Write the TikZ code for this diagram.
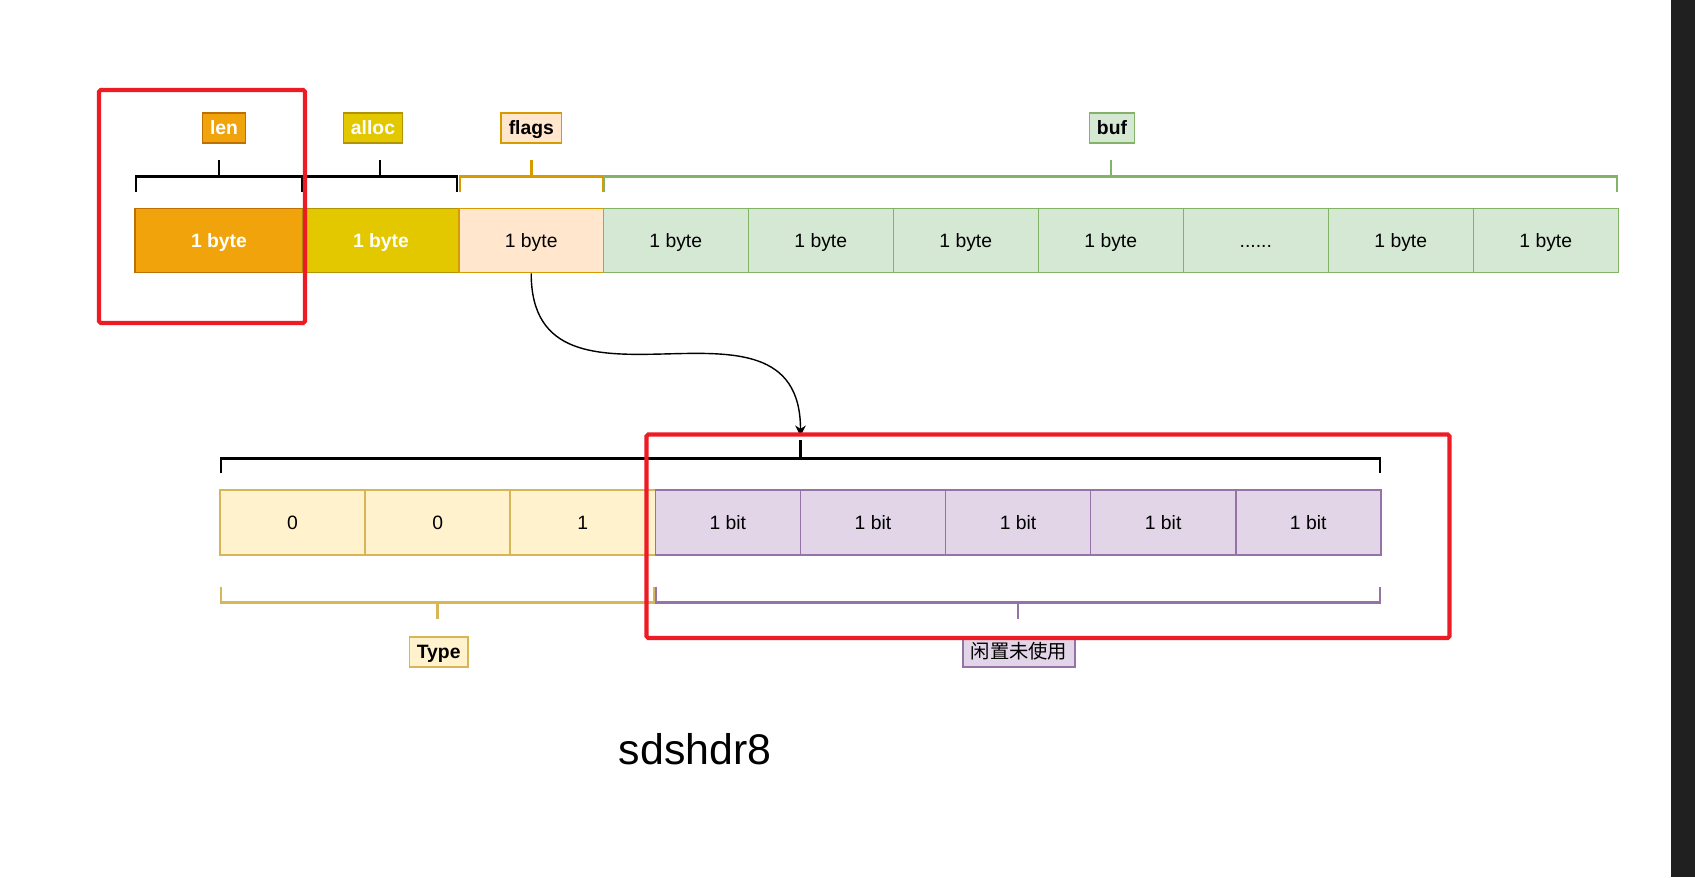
\documentclass[tikz,border=0pt]{standalone}
\usepackage{fontspec}
\setmainfont{Liberation Sans}
\newfontfamily\cjk{Noto Sans CJK SC}
\usepackage{tikz}
\usetikzlibrary{arrows.meta}

\definecolor{lenfill}{HTML}{F0A30A}
\definecolor{lenline}{HTML}{BD7000}
\definecolor{allocfill}{HTML}{E3C800}
\definecolor{allocline}{HTML}{B09500}
\definecolor{flagsfill}{HTML}{FFE6CC}
\definecolor{flagsline}{HTML}{D79B00}
\definecolor{buffill}{HTML}{D5E8D4}
\definecolor{bufline}{HTML}{82B366}
\definecolor{typefill}{HTML}{FFF2CC}
\definecolor{typeline}{HTML}{D6B656}
\definecolor{bitfill}{HTML}{E1D5E7}
\definecolor{bitline}{HTML}{9673A6}
\definecolor{markred}{HTML}{ED1C24}
\definecolor{sidebar}{HTML}{202020}

\newcommand\bufdots{......}

\tikzset{
  cell/.style={draw, line width=0.9pt, minimum height=1.288cm, inner sep=0pt,
    text height=7.9pt, text depth=0pt, font=\fontsize{11}{13}\selectfont},
  tag/.style={draw, line width=0.9pt, minimum height=0.59cm, inner xsep=4.3pt,
    inner ysep=0pt, text height=7.9pt, text depth=0pt,
    font=\bfseries\fontsize{11}{13}\selectfont},
  brace/.style={line width=1.6pt},
}

\begin{document}
\begin{tikzpicture}[x=0.02cm, y=-0.02cm]
    \useasboundingbox (0,0) rectangle (1695,877);
    \fill[white] (0,0) rectangle (1695,877);
    \fill[sidebar] (1670.5,0) rectangle (1695,877);

    % header bytes
    \node[cell, fill=lenfill, draw=lenline, text=white, minimum width=3.36cm,
      font=\bfseries\fontsize{11}{13}\selectfont] (lencell) at (219,240.5) {1 byte};
    \node[cell, fill=allocfill, draw=allocline, text=white, minimum width=3.12cm,
      font=\bfseries\fontsize{11}{13}\selectfont] (alloccell) at (381,240.5) {1 byte};
    \node[cell, fill=flagsfill, draw=flagsline, minimum width=2.886cm] (flagscell) at (531.2,240.5) {1 byte};
    \foreach \t [count=\i] in {1 byte,1 byte,1 byte,1 byte,\bufdots,1 byte,1 byte}
        \node[cell, fill=buffill, draw=bufline, minimum width=2.9cm] (buf\i) at ({675.8+145*(\i-1)},240.5) {\t};

    % flag bits
    \foreach \t [count=\i] in {0,0,1}
        \node[cell, fill=typefill, draw=typeline, minimum width=2.902cm, minimum height=1.3cm] (type\i) at ({292.55+145.1*(\i-1)},522.5) {\t};
    \foreach \i in {1,2,3,4,5}
        \node[cell, fill=bitfill, draw=bitline, minimum width=2.902cm, minimum height=1.3cm] (bit\i) at ({727.85+145.1*(\i-1)},522.5) {1 bit};

    % brackets
    \draw[brace] (136,192) -- (136,176.7) -- (302,176.7) -- (302,192) (219,176.7) -- (219,160);
    \draw[brace] (302,192) -- (302,176.7) -- (457,176.7) -- (457,192) (380,176.7) -- (380,160);
    \draw[brace, flagsline] (460,192) -- (460,176.7) -- (603,176.7) -- (603,192) (531.5,176.7) -- (531.5,160);
    \draw[brace, bufline] (604,192) -- (604,176.7) -- (1617,176.7) -- (1617,192) (1111,176.7) -- (1111,160);

    \draw[brace] (221,473.3) -- (221,458.3) -- (1380,458.3) -- (1380,473.3) (800.5,458.3) -- (800.5,440);
    \coordinate (bitsbrace) at (800.5,436);
    \draw[brace, typeline] (221,586.7) -- (221,602.7) -- (654,602.7) -- (654,586.7) (437.5,602.7) -- (437.5,619.3);
    \draw[brace, bitline] (656,586.7) -- (656,602.7) -- (1380,602.7) -- (1380,586.7) (1018,602.7) -- (1018,619.3);

    % labels
    \node[tag, fill=lenfill, draw=lenline, text=white] (lentag) at (224,128) {len};
    \node[tag, fill=allocfill, draw=allocline, text=white] (alloctag) at (373,128) {alloc};
    \node[tag, fill=flagsfill, draw=flagsline] (flagstag) at (531.3,128) {flags};
    \node[tag, fill=buffill, draw=bufline] (buftag) at (1112,128) {buf};
    \node[tag, fill=typefill, draw=typeline] (typetag) at (438.7,652) {Type};
    \node[tag, fill=bitfill, draw=bitline, font=\cjk\fontsize{11}{13}\selectfont] (idletag) at (1019,652) {闲置未使用};

    \node[font=\fontsize{24.4}{28}\selectfont] (title) at (695,749) {sdshdr8};

    \draw[line width=0.8pt, -{Stealth[length=6pt,width=6pt]}] (flagscell.south)
        .. controls +(0,166) and +(0,-166) .. (bitsbrace);

    % highlights
    \draw[markred, line width=2.3pt, rounded corners=1pt] (99,90) rectangle (305,323);
    \draw[markred, line width=2.3pt, rounded corners=1pt] (646.5,434.5) rectangle (1449.5,638);
\end{tikzpicture}
\end{document}
